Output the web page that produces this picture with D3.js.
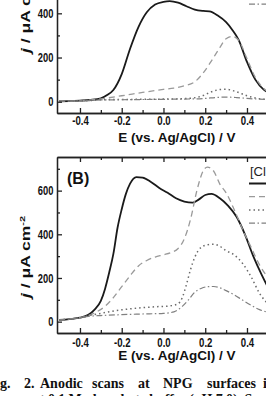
<!DOCTYPE html>
<html>
<head>
<meta charset="utf-8">
<script src="https://cdn.jsdelivr.net/npm/d3@7/dist/d3.min.js"></script>
<style>
  body { margin: 0; background: #fff; }
  svg { display: block; }
  .tick text { font-family: "Liberation Sans", Arial, sans-serif; font-weight: bold; font-size: 13px; fill: #111; }
  .axis path, .axis line { stroke: #222; stroke-width: 1.3; }
  .lbl { font-family: "Liberation Sans", Arial, sans-serif; font-weight: bold; fill: #111; }
  .cap { font-family: "Liberation Serif", "Times New Roman", serif; font-weight: bold; font-size: 14px; fill: #111; }
</style>
</head>
<body>
<div id="chart"></div>
<script>
// potentials in V vs Ag/AgCl, current densities in uA cm-2

// panel A
const eA1 = [-0.5, -0.45, -0.4, -0.35, -0.3, -0.27, -0.24, -0.2, -0.16, -0.12, -0.08, -0.04, 0.0, 0.03, 0.07, 0.11, 0.15, 0.19, 0.22, 0.26, 0.30, 0.33, 0.36, 0.40, 0.44, 0.48, 0.51];
const jA1 = [2, 3, 5, 8, 15, 30, 53, 125, 240, 338, 405, 440, 452, 455, 448, 432, 417, 411, 409, 390, 360, 325, 280, 180, 100, 55, 38];
const eA2 = [-0.5, -0.4, -0.35, -0.3, -0.2, -0.1, 0.0, 0.05, 0.1, 0.15, 0.19, 0.23, 0.27, 0.30, 0.33, 0.36, 0.40, 0.44, 0.48, 0.51];
const jA2 = [2, 4, 8, 13, 27, 42, 56, 62, 72, 90, 130, 185, 245, 285, 295, 278, 195, 110, 60, 40];
const eA3 = [-0.5, -0.4, -0.35, -0.3, -0.2, -0.1, 0.0, 0.1, 0.15, 0.19, 0.23, 0.27, 0.30, 0.35, 0.40, 0.45, 0.51];
const jA3 = [2, 4, 5, 9, 10, 11, 12, 14, 18, 28, 45, 55, 56, 45, 27, 15, 10];
const eA4 = [-0.5, -0.4, -0.35, -0.3, -0.2, -0.1, 0.0, 0.1, 0.2, 0.25, 0.3, 0.35, 0.4, 0.45, 0.51];
const jA4 = [2, 4, 5, 8, 9, 10, 11, 12, 15, 19, 21, 19, 15, 12, 10];

// panel B
const eB1 = [-0.5, -0.45, -0.4, -0.36, -0.33, -0.30, -0.28, -0.26, -0.24, -0.22, -0.20, -0.18, -0.16, -0.13, -0.10, -0.06, -0.02, 0.02, 0.06, 0.10, 0.14, 0.17, 0.20, 0.23, 0.27, 0.31, 0.35, 0.39, 0.43, 0.47, 0.51];
const jB1 = [8, 12, 18, 31, 55, 95, 150, 225, 310, 430, 515, 585, 632, 662, 660, 640, 612, 590, 565, 550, 545, 560, 580, 585, 565, 530, 480, 400, 300, 215, 140];
const eB2 = [-0.5, -0.45, -0.4, -0.36, -0.32, -0.28, -0.24, -0.20, -0.16, -0.12, -0.08, -0.04, 0.0, 0.04, 0.07, 0.10, 0.13, 0.16, 0.19, 0.21, 0.24, 0.27, 0.30, 0.34, 0.38, 0.42, 0.46, 0.51];
const jB2 = [8, 12, 18, 28, 45, 70, 110, 160, 210, 255, 280, 296, 306, 318, 335, 380, 470, 600, 690, 708, 690, 630, 590, 510, 420, 340, 260, 190];
const eB3 = [-0.5, -0.4, -0.36, -0.3, -0.2, -0.1, -0.04, 0.03, 0.07, 0.09, 0.11, 0.13, 0.15, 0.18, 0.21, 0.24, 0.27, 0.30, 0.34, 0.38, 0.42, 0.46, 0.49, 0.51];
const jB3 = [8, 18, 27, 38, 54, 64, 68, 72, 82, 110, 170, 240, 295, 340, 352, 355, 345, 325, 305, 265, 205, 130, 92, 75];
const eB4 = [-0.5, -0.4, -0.36, -0.3, -0.2, -0.1, 0.0, 0.05, 0.09, 0.12, 0.15, 0.18, 0.21, 0.24, 0.27, 0.30, 0.34, 0.38, 0.42, 0.46, 0.51];
const jB4 = [8, 18, 24, 28, 32, 35, 38, 45, 70, 100, 135, 152, 160, 161, 155, 142, 122, 98, 75, 55, 42];

const xTicks = [-0.4, -0.2, 0.0, 0.2, 0.4];
const xMinor = [-0.3, -0.1, 0.1, 0.3, 0.5];
const yTicksA = [0, 200, 400];
const yMinorA = [100, 300, 500];
const yTicksB = [0, 200, 400, 600];
const yMinorB = [100, 300, 500, 700];

const styles = [
  {color: "#1a1a1a", width: 1.8, dash: null},
  {color: "#9a9a9a", width: 1.3, dash: "6,4"},
  {color: "#6a6a6a", width: 1.5, dash: "1.5,3"},
  {color: "#808080", width: 1.2, dash: "6,2.5,1.5,2.5"}
];

const W = 266, H = 396;
const svg = d3.select("#chart").append("svg")
    .attr("width", W)
    .attr("height", H);

const x = d3.scaleLinear().domain([-0.51, 0.55]).range([57, 278.3]);
const fmtX = d3.format(".1f");

function panel(opt) {
    const y = d3.scaleLinear().domain(opt.yDomain).range(opt.yRange);
    const g = svg.append("g");
    const yBottom = opt.yRange[0];

    const line = d3.line()
        .x(d => x(d[0]))
        .y(d => y(d[1]))
        .curve(d3.curveMonotoneX);

    opt.series.forEach(function(s, i) {
        g.append("path")
            .datum(d3.zip(s[0], s[1]))
            .attr("d", line)
            .attr("fill", "none")
            .attr("stroke", styles[i].color)
            .attr("stroke-width", styles[i].width)
            .attr("stroke-dasharray", styles[i].dash);
    });

    // x axis, ticks point inward
    g.append("g").attr("class", "axis")
        .attr("transform", "translate(0," + yBottom + ")")
        .call(d3.axisBottom(x).tickValues(xMinor).tickSize(-3).tickSizeOuter(0).tickFormat(""));
    const ax = g.append("g").attr("class", "axis")
        .attr("transform", "translate(0," + yBottom + ")")
        .call(d3.axisBottom(x).tickValues(xTicks).tickSize(-5).tickSizeOuter(0)
            .tickPadding(opt.xPad).tickFormat(d => fmtX(d).replace("−", "-")));
    ax.selectAll(".tick text").attr("transform", "scale(0.74,1)");

    // y axis
    g.append("g").attr("class", "axis")
        .attr("transform", "translate(57,0)")
        .call(d3.axisLeft(y).tickValues(opt.yMinor).tickSize(-3).tickSizeOuter(0).tickFormat(""));
    const ay = g.append("g").attr("class", "axis")
        .attr("transform", "translate(57,0)")
        .call(d3.axisLeft(y).tickValues(opt.yTicks).tickSize(-5).tickSizeOuter(0).tickPadding(5));
    ay.selectAll(".tick text").attr("transform", "scale(0.72,1)");

    if (opt.topFrame) {
        g.append("g").attr("class", "axis")
            .attr("transform", "translate(0," + opt.yRange[1] + ")")
            .call(d3.axisTop(x).tickValues(xMinor).tickSize(-3).tickSizeOuter(0).tickFormat(""));
        g.append("g").attr("class", "axis")
            .attr("transform", "translate(0," + opt.yRange[1] + ")")
            .call(d3.axisTop(x).tickValues(xTicks).tickSize(-5).tickSizeOuter(0).tickFormat(""));
    }

    // axis titles
    g.append("text").attr("class", "lbl")
        .attr("x", 177).attr("y", opt.xLabelY)
        .attr("text-anchor", "middle")
        .style("font-size", "13.5px")
        .text("E (vs. Ag/AgCl) / V");

    const yl = g.append("text").attr("class", "lbl")
        .attr("transform", "translate(29.5," + opt.yLabelY + ") scale(0.68,1) rotate(-90)")
        .style("font-size", "17.5px");
    yl.append("tspan").style("font-style", "italic").text("j");
    yl.append("tspan").text(" / μA cm");
    yl.append("tspan").attr("dy", -7).style("font-size", "11px").text("-2");

    // legend (mostly outside the crop)
    const lg = g.append("g");
    if (opt.legendTitle) {
        lg.append("text")
            .attr("x", 250).attr("y", opt.legendY - 8)
            .style("font-family", "Liberation Sans, Arial, sans-serif")
            .style("font-size", "13px")
            .attr("fill", "#222")
            .text("[Cl⁻] / mM");
    }
    styles.forEach(function(s, i) {
        lg.append("line")
            .attr("x1", 249).attr("x2", 290)
            .attr("y1", opt.legendY + i * 13.2).attr("y2", opt.legendY + i * 13.2)
            .attr("stroke", s.color)
            .attr("stroke-width", s.width)
            .attr("stroke-dasharray", s.dash);
    });

    if (opt.tag) {
        g.append("text").attr("class", "lbl")
            .attr("x", 67).attr("y", 184)
            .style("font-size", "16px")
            .text(opt.tag);
    }
}

panel({
    yDomain: [-51, 520], yRange: [113, -13.2],
    yTicks: yTicksA, yMinor: yMinorA,
    series: [[eA1, jA1], [eA2, jA2], [eA3, jA3], [eA4, jA4]],
    xPad: 3, xLabelY: 141.5, yLabelY: 53,
    legendY: -35.5, topFrame: false
});

panel({
    yDomain: [-52, 754], yRange: [333, 157],
    yTicks: yTicksB, yMinor: yMinorB,
    series: [[eB1, jB1], [eB2, jB2], [eB3, jB3], [eB4, jB4]],
    xPad: 5, xLabelY: 360, yLabelY: 298,
    legendY: 183.5, legendTitle: true, topFrame: true, tag: "(B)"
});

// caption, cut by the crop
const capWords = [["g.", 0], ["2.", 24], ["Anodic", 40], ["scans", 92], ["at", 138], ["NPG", 163], ["surfaces", 207], ["in", 263]];
svg.append("g").selectAll("text")
    .data(capWords)
    .enter().append("text")
    .attr("class", "cap")
    .attr("x", d => d[1])
    .attr("y", 388)
    .text(d => d[0]);

svg.append("text").attr("class", "cap")
    .attr("x", 33).attr("y", 403.5)
    .attr("textLength", 240).attr("lengthAdjust", "spacing")
    .text("at 0.1 M phosphate buffer (pH 7.0). Scan");
</script>
</body>
</html>
